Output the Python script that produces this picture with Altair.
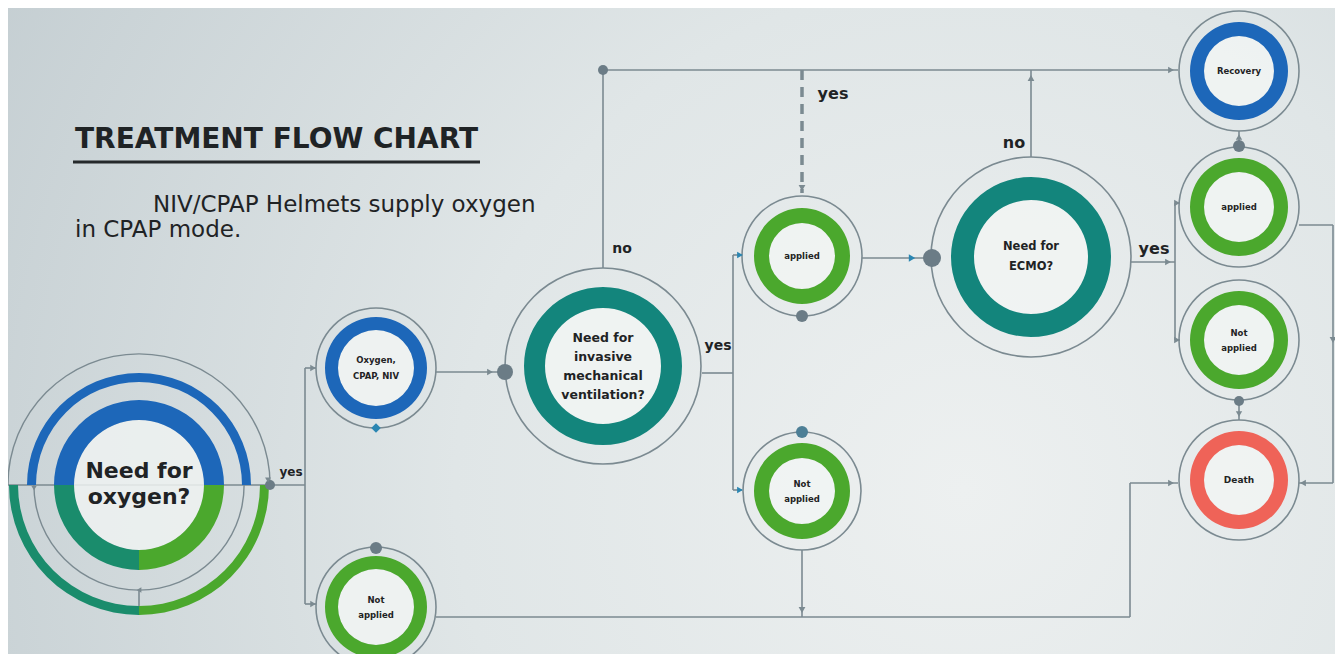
import math
import altair as alt
import pandas as pd

W, H = 1327, 646
XD = [8, 8 + W]
YD = [8 + H, 8]
PI = math.pi

BLUE = "#1d67b9"
GREEN = "#4ba82d"
TEAL = "#13857c"
TEAL2 = "#1a8c6c"
RED = "#ef6358"
LINE = "#7b8a91"
DOT = "#6b7c86"
ARROW_BLUE = "#2a86b2"
INK = "#1f2325"

# ---------------- nodes (simple ring nodes) ----------------
node_label = ["Oxygen,\nCPAP, NIV", "Not\napplied", "Need for\ninvasive\nmechanical\nventilation?",
              "applied", "Not\napplied", "Need for\nECMO?", "Recovery", "applied", "Not\napplied", "Death"]
node_x = [376, 376, 603, 802, 802, 1031, 1239, 1239, 1239, 1239]
node_y = [368, 607, 366, 256, 491, 257, 71, 207, 340, 480]
node_outline_r = [60, 60, 98, 60, 59, 100, 60, 60, 60, 60]
node_ring_outer = [51, 51, 79, 48, 48, 80, 49, 49, 49, 49]
node_ring_inner = [38, 38, 58, 33, 33, 57, 35, 35, 35, 35]
node_color = [BLUE, GREEN, TEAL, GREEN, GREEN, TEAL, BLUE, GREEN, GREEN, RED]
node_font = [8.5, 8.5, 12.5, 8.5, 8.5, 11.5, 8.5, 8.5, 8.5, 9]
node_line_gap = [16, 15, 19, 15, 15, 20, 15, 15, 15, 15]

# ---------------- root node "Need for oxygen?" (split rings) ----------------
root_x, root_y = 139, 485
root_t0 = [-PI / 2, PI / 2, PI, -PI / 2, PI / 2, PI, -PI / 2, PI / 2]
root_t1 = [PI / 2, PI, 3 * PI / 2, PI / 2, PI, 3 * PI / 2, PI / 2, 3 * PI / 2]
root_r_out = [85, 85, 85, 112, 130, 130, 131.8, 105.8]
root_r_in = [65, 65, 65, 103, 121, 121, 130.4, 104.4]
root_col = [BLUE, GREEN, TEAL2, BLUE, GREEN, TEAL2, LINE, LINE]

# ---------------- connector lines ----------------
seg_x1 = [8, 139, 305, 305, 305, 436, 603, 603, 702, 733, 733, 733, 862, 1031, 1131, 1175, 1175, 1175,
          1299, 1333, 1333, 1239, 1239, 802, 436, 1130, 1130]
seg_y1 = [485, 590, 368, 368, 604, 372, 268, 70, 373, 255, 255, 490, 258, 157, 262, 203, 203, 340,
          225, 225, 483, 131, 400, 550, 617, 617, 483]
seg_x2 = [305, 139, 305, 316, 316, 505, 603, 1178, 733, 733, 742, 742, 932, 1031, 1175, 1175, 1179, 1180,
          1333, 1333, 1299, 1239, 1239, 802, 1130, 1130, 1178]
seg_y2 = [485, 615, 604, 368, 604, 372, 70, 70, 373, 490, 255, 490, 258, 70, 262, 340, 203, 340,
          225, 483, 483, 147, 420, 617, 617, 483, 483]
dash_x1, dash_y1, dash_x2, dash_y2 = [802], [70], [802], [193]

# ---------------- arrow heads / markers ----------------
mk_x = [313, 313, 490, 1171, 802, 740, 740, 912, 1031, 1168, 1177, 1177, 1333, 1303, 1239, 1239, 802, 1171, 139, 268, 34, 376]
mk_y = [368, 604, 372, 70, 188, 255, 490, 258, 78, 262, 203, 340, 340, 483, 137, 414, 610, 483, 590, 480, 488, 428]
mk_shape = ["triangle-right", "triangle-right", "triangle-right", "triangle-right", "triangle-down",
            "triangle-right", "triangle-right", "triangle-right", "triangle-up", "triangle-right",
            "triangle-right", "triangle-right", "triangle-down", "triangle-left", "triangle-up",
            "triangle-down", "triangle-down", "triangle-right", "triangle-left", "triangle-down",
            "triangle-down", "diamond"]
mk_col = [LINE, LINE, LINE, LINE, LINE, ARROW_BLUE, ARROW_BLUE, ARROW_BLUE, LINE, LINE,
          LINE, LINE, LINE, LINE, LINE, LINE, LINE, LINE, LINE, LINE, LINE, ARROW_BLUE]
mk_size = [40, 40, 45, 45, 45, 45, 45, 55, 45, 45, 45, 45, 45, 45, 40, 40, 45, 45, 30, 35, 30, 90]

# ---------------- junction dots ----------------
dot_x = [270, 505, 603, 932, 802, 802, 376, 1239, 1239]
dot_y = [485, 372, 70, 258, 316, 432, 548, 146, 401]
dot_r = [5, 8, 5, 9, 6, 6, 6, 6, 5]
dot_col = [DOT, DOT, DOT, DOT, DOT, "#4d7f96", DOT, DOT, DOT]

# ---------------- branch labels ----------------
lab_text = ["yes", "no", "yes", "yes", "no", "yes"]
lab_x = [291, 622, 718, 833, 1014, 1154]
lab_y = [476, 253, 350, 99, 148, 254]
lab_size = [12, 14, 14, 16, 16, 16]

# ---------------- headline texts ----------------
title_text = "TREATMENT FLOW CHART"
sub_lines = ["NIV/CPAP Helmets supply oxygen", "in CPAP mode."]
sub_x = [153, 75]
sub_y = [212, 237]
root_lines = ["Need for", "oxygen?"]
root_line_y = [478, 504]

# =====================================================================
xs = alt.Scale(domain=XD, nice=False, zero=False)
ys = alt.Scale(domain=YD, nice=False, zero=False)


def X(f):
    return alt.X(f, type="quantitative", scale=xs, axis=None)


def Y(f):
    return alt.Y(f, type="quantitative", scale=ys, axis=None)


# ring table
rows = []
for i in range(len(node_x)):
    rows.append(dict(x=node_x[i], y=node_y[i], r1=node_outline_r[i] + 0.8, r0=node_outline_r[i] - 0.8,
                     t0=0, t1=2 * PI, col=LINE, o=1))
    rows.append(dict(x=node_x[i], y=node_y[i], r1=node_ring_inner[i], r0=0, t0=0, t1=2 * PI, col="#f1f4f3", o=0.85))
    rows.append(dict(x=node_x[i], y=node_y[i], r1=node_ring_outer[i], r0=node_ring_inner[i],
                     t0=0, t1=2 * PI, col=node_color[i], o=1))
rows.append(dict(x=root_x, y=root_y, r1=65, r0=0, t0=0, t1=2 * PI, col="#eef2f1", o=0.85))
for i in range(len(root_t0)):
    rows.append(dict(x=root_x, y=root_y, r1=root_r_out[i], r0=root_r_in[i], t0=root_t0[i], t1=root_t1[i],
                     col=root_col[i], o=1))
rings = pd.DataFrame(rows)

bg_grad = {
    "gradient": "radial",
    "x1": 0.72, "y1": 0.62, "r1": 0.0,
    "x2": 0.72, "y2": 0.62, "r2": 0.85,
    "stops": [
        {"offset": 0.0, "color": "#edf0f0"},
        {"offset": 0.45, "color": "#e0e6e7"},
        {"offset": 1.0, "color": "#c3cdd1"},
    ],
}
background = alt.Chart(pd.DataFrame({"a": [0]})).mark_rect(color=bg_grad).encode(
    x=alt.value(0), x2=alt.value(W), y=alt.value(0), y2=alt.value(H)
)

segs = pd.DataFrame(dict(x=seg_x1, y=seg_y1, x2=seg_x2, y2=seg_y2))
lines = alt.Chart(segs).mark_rule(color=LINE, strokeWidth=1.6).encode(
    x=X("x"), y=Y("y"), x2="x2:Q", y2="y2:Q"
)
dashed = alt.Chart(pd.DataFrame(dict(x=dash_x1, y=dash_y1, x2=dash_x2, y2=dash_y2))).mark_rule(
    color=LINE, strokeWidth=3.5, strokeDash=[10, 7]
).encode(x=X("x"), y=Y("y"), x2="x2:Q", y2="y2:Q")

title_rule = alt.Chart(pd.DataFrame(dict(x=[73], y=[162], x2=[480], y2=[162]))).mark_rule(
    color="#25292b", strokeWidth=3.2
).encode(x=X("x"), y=Y("y"), x2="x2:Q", y2="y2:Q")

arcs = alt.Chart(rings).mark_arc().encode(
    x=X("x"), y=Y("y"),
    theta=alt.Theta("t0:Q", scale=None, stack=None),
    theta2="t1:Q",
    radius=alt.Radius("r1:Q", scale=None),
    radius2="r0:Q",
    color=alt.Color("col:N", scale=None),
    opacity=alt.Opacity("o:Q", scale=None),
)

dots = alt.Chart(pd.DataFrame(dict(x=dot_x, y=dot_y, s=[(2 * r) ** 2 for r in dot_r], col=dot_col))).mark_circle(
    opacity=1
).encode(x=X("x"), y=Y("y"), size=alt.Size("s:Q", scale=None), color=alt.Color("col:N", scale=None))

markers = alt.Chart(pd.DataFrame(dict(x=mk_x, y=mk_y, shape=mk_shape, col=mk_col, s=mk_size))).mark_point(
    filled=True, opacity=1
).encode(x=X("x"), y=Y("y"), shape=alt.Shape("shape:N", scale=None),
         color=alt.Color("col:N", scale=None), size=alt.Size("s:Q", scale=None))

# node labels (split lines)
trows = []
for i in range(len(node_x)):
    parts = node_label[i].split("\n")
    n = len(parts)
    for j, p in enumerate(parts):
        trows.append(dict(t=p, x=node_x[i], y=node_y[i] + (j - (n - 1) / 2) * node_line_gap[i], fs=node_font[i]))
node_text = alt.Chart(pd.DataFrame(trows)).mark_text(
    font="DejaVu Sans", fontWeight="bold", color=INK, baseline="middle", align="center"
).encode(x=X("x"), y=Y("y"), text="t:N", size=alt.Size("fs:Q", scale=None))

root_text = alt.Chart(pd.DataFrame(dict(t=root_lines, x=[root_x] * 2, y=root_line_y))).mark_text(
    font="DejaVu Sans", fontWeight="bold", color=INK, baseline="alphabetic", align="center", fontSize=22
).encode(x=X("x"), y=Y("y"), text="t:N")

labels = alt.Chart(pd.DataFrame(dict(t=lab_text, x=lab_x, y=lab_y, fs=lab_size))).mark_text(
    font="DejaVu Sans", fontWeight="bold", color=INK, baseline="alphabetic", align="center"
).encode(x=X("x"), y=Y("y"), text="t:N", size=alt.Size("fs:Q", scale=None))

title = alt.Chart(pd.DataFrame(dict(t=[title_text], x=[75], y=[148]))).mark_text(
    font="DejaVu Sans", fontWeight="bold", color=INK, baseline="alphabetic", align="left", fontSize=28
).encode(x=X("x"), y=Y("y"), text="t:N")

subtitle = alt.Chart(pd.DataFrame(dict(t=sub_lines, x=sub_x, y=sub_y))).mark_text(
    font="DejaVu Sans", color=INK, baseline="alphabetic", align="left", fontSize=23
).encode(x=X("x"), y=Y("y"), text="t:N")

chart = alt.layer(
    background, lines, dashed, title_rule, arcs, dots, markers, node_text, root_text, labels, title, subtitle
).properties(
    width=W, height=H, padding=0, autosize="none", background="#d6dde0"
).configure_view(stroke=None)

chart.save("out.html", embed_options={"renderer": "svg", "actions": False})
